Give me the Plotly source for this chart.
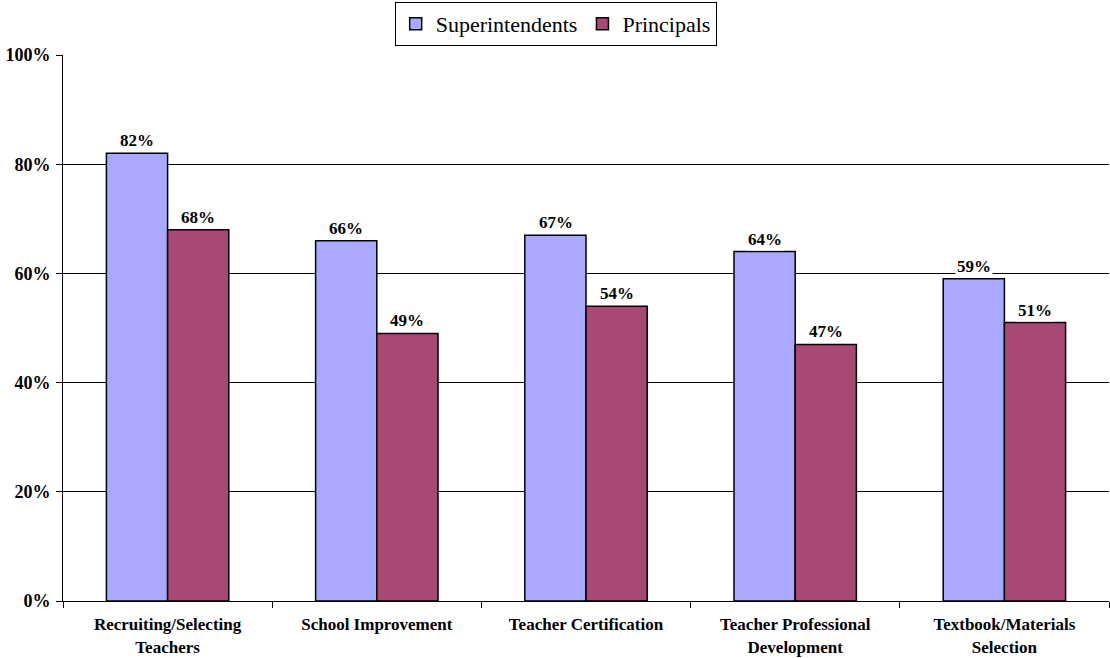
import plotly.graph_objects as go

categories = [
    "Recruiting/Selecting<br>Teachers",
    "School Improvement",
    "Teacher Certification",
    "Teacher Professional<br>Development",
    "Textbook/Materials<br>Selection",
]
superintendents = [82, 66, 67, 64, 59]
principals = [68, 49, 54, 47, 51]

series = [
    ("Superintendents", superintendents, "#A9AAFF", -30.5),
    ("Principals", principals, "#A84874", 30.5),
]

FONT = "Liberation Serif"

fig = go.Figure()
annotations = []
for name, vals, color, shift in series:
    fig.add_trace(go.Bar(
        name=name, x=categories, y=vals,
        marker=dict(color=color, line=dict(color="black", width=1.5)),
    ))
    for cat, v in zip(categories, vals):
        annotations.append(dict(
            x=cat, y=v, xref="x", yref="y", text=f"<b>{v}%</b>",
            showarrow=False, yanchor="bottom", xshift=shift, yshift=1,
            bgcolor="white", borderpad=1,
            font=dict(family=FONT, size=17, color="black"),
        ))

fig.update_layout(
    width=1110, height=658,
    margin=dict(l=63, r=1, t=55, b=57),
    paper_bgcolor="white", plot_bgcolor="white",
    barmode="group", bargap=0.415, bargroupgap=0,
    font=dict(family=FONT, color="black"),
    annotations=annotations,
    legend=dict(
        orientation="h", x=0.471, xanchor="center", y=1.097, yanchor="top",
        bordercolor="black", borderwidth=1, bgcolor="white",
        font=dict(family=FONT, size=22, color="black"),
        itemwidth=30, tracegroupgap=0,
    ),
    showlegend=True,
)
fig.update_xaxes(
    showline=True, linecolor="black", linewidth=1,
    ticks="outside", ticklen=6, tickcolor="black", tickson="boundaries",
    ticklabelstandoff=8,
    tickfont=dict(family=FONT, size=17, color="black"),
    tickprefix="<b>", ticksuffix="</b>",
)
fig.update_yaxes(
    range=[0, 100], tickvals=[0, 20, 40, 60, 80, 100],
    ticktext=["<b>0%</b>", "<b>20%</b>", "<b>40%</b>", "<b>60%</b>", "<b>80%</b>", "<b>100%</b>"],
    showline=True, linecolor="black", linewidth=1,
    ticks="outside", ticklen=6, tickcolor="black",
    showgrid=True, gridcolor="black", gridwidth=1, zeroline=False,
    ticklabelstandoff=2,
    tickfont=dict(family=FONT, size=18, color="black"),
)

fig.write_html("out.html")
